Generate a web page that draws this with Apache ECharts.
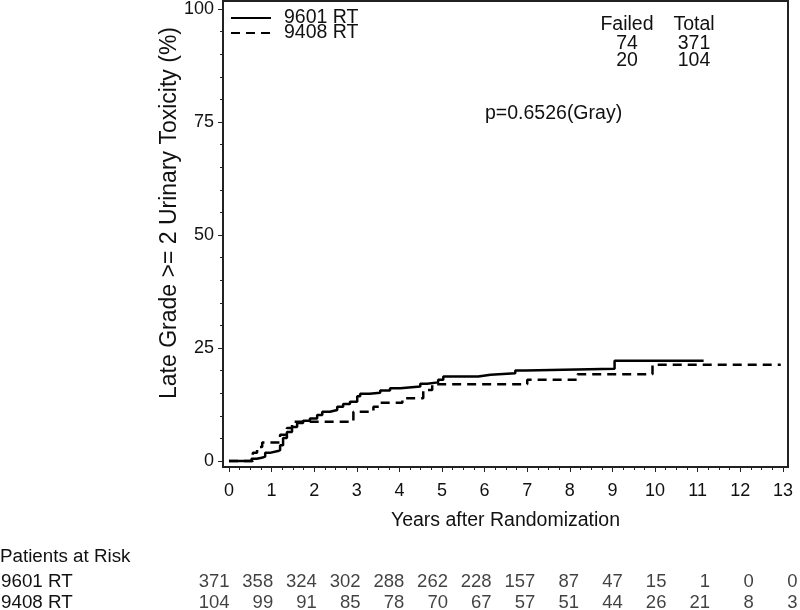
<!DOCTYPE html>
<html><head><meta charset="utf-8">
<script src="https://cdn.jsdelivr.net/npm/echarts@6/dist/echarts.min.js"></script>
<style>html,body{margin:0;padding:0;background:#fff}#c{width:800px;height:610px}</style>
</head><body><div id="c"></div>
<script>
// ---- data ----
const seriesNames = ['9601 RT', '9408 RT'];
// [years, cumulative incidence %] ; value holds from that time onward
const rt9601 = [[0,0],[0.53,0.5],[0.65,0.7],[0.77,1.0],[0.85,1.8],[0.96,2.2],[1.15,2.4],[1.2,3.5],[1.27,5.1],[1.36,6.4],[1.48,7.5],[1.6,8.4],[1.74,8.9],[1.9,9.4],[2.07,10.2],[2.19,10.9],[2.37,11.3],[2.54,12.0],[2.68,12.6],[2.84,13.1],[3.01,14.3],[3.08,14.9],[3.3,15.1],[3.55,15.6],[3.78,16.1],[4.02,16.5],[4.49,17.1],[4.65,17.4],[4.91,18.0],[5.03,18.7],[5.85,19.1],[6.14,19.4],[6.72,20.0],[6.96,20.4],[9.05,22.2],[11.14,22.2]];
const rt9408 = [[0,0],[0.56,1.8],[0.66,3.1],[0.78,4.1],[1.2,5.8],[1.36,7.3],[1.48,8.7],[2.92,10.9],[3.39,12.0],[3.55,12.9],[4.07,13.9],[4.56,15.7],[4.77,17.0],[7.0,18.0],[8.18,19.2],[9.94,21.3],[12.95,21.3]];
const xTicks = [0,1,2,3,4,5,6,7,8,9,10,11,12,13];
const yTicks = [0,25,50,75,100];
const riskTimes = [0,1,2,3,4,5,6,7,8,9,10,11,12,13];
const risk9601 = [371,358,324,302,288,262,228,157,87,47,15,1,0,0];
const risk9408 = [104,99,91,85,78,70,67,57,51,44,26,21,8,3];
const failed = [74, 20];
const total = [371, 104];
const tableHeaders = ['Failed', 'Total'];
const pValueText = 'p=0.6526(Gray)';
const xTitle = 'Years after Randomization';
const yTitle = 'Late Grade >= 2 Urinary Toxicity (%)';
const riskTitle = 'Patients at Risk';

// ---- chart ----
const FONT = "'Liberation Sans', Arial, Helvetica, sans-serif";
const INK = '#111';
const AX = '#222';
const FS = 19.5;
const xMinor = [];
for (let v = 0; v <= 13.001; v += 0.25) xMinor.push(+v.toFixed(2));
const yMinor = [];
for (let v = 0; v <= 100; v += 5) yMinor.push(v);

const chart = echarts.init(document.getElementById('c'), null, {renderer: 'canvas'});

const graphics = [];
const colX = [627, 694];
tableHeaders.forEach((h, i) => graphics.push({type:'text', x: colX[i], y: 25, style:{text:h, fontSize:FS, fontFamily:FONT, fill:INK, textAlign:'center', textVerticalAlign:'middle'}}));
[failed, total].forEach((arr, c) => arr.forEach((v, r) => graphics.push({type:'text', x: colX[c], y: 44 + r*17, style:{text:String(v), fontSize:FS, fontFamily:FONT, fill:INK, textAlign:'center', textVerticalAlign:'middle'}})));
graphics.push({type:'text', x: 485, y: 114, style:{text:pValueText, fontSize:FS, fontFamily:FONT, fill:INK, textAlign:'left', textVerticalAlign:'middle'}});
graphics.push({type:'text', x: 170, y: 213, rotation: Math.PI/2, style:{text:yTitle, fontSize:23, fontFamily:FONT, fill:INK, textAlign:'center', textVerticalAlign:'middle'}});
graphics.push({type:'text', x: 0, y: 557, style:{text:riskTitle, fontSize:18.8, fontFamily:FONT, fill:INK, textAlign:'left', textVerticalAlign:'middle'}});

const riskSeries = (arr, row) => ({
  type: 'scatter', xAxisIndex: 2, yAxisIndex: 2, symbolSize: 1, itemStyle: {color: 'transparent'},
  silent: true, clip: false,
  data: arr.map((v, i) => [riskTimes[i], row, v]),
  label: {show: true, position: 'left', distance: 0, formatter: p => String(p.value[2]), fontSize: 18.5, fontFamily: FONT, color: INK, align: 'right'},
  labelLayout: {hideOverlap: false}
});

chart.setOption({
  animation: false,
  backgroundColor: '#fff',
  textStyle: {fontFamily: FONT},
  grid: [
    {left: 223, right: 12, top: 1, bottom: 143, show: true, borderColor: AX, borderWidth: 2, backgroundColor: 'transparent', outerBoundsMode: 'none', containLabel: false},
    {left: 230, right: 2, top: 582, height: 21, outerBoundsMode: 'none', containLabel: false}
  ],
  legend: {
    orient: 'vertical', left: 225, top: 3, itemWidth: 40, itemHeight: 14, itemGap: -5,
    data: seriesNames,
    itemStyle: {opacity: 0},
    textStyle: {fontSize: FS, fontFamily: FONT, color: INK, padding: [0,0,0,8]}
  },
  xAxis: [
    {type: 'value', gridIndex: 0, min: -0.14, max: 13.12, position: 'bottom',
     axisLine: {show: true, onZero: false, lineStyle: {color: AX, width: 2}},
     axisTick: {show: true, customValues: xTicks, length: 5, lineStyle: {color: AX, width: 1}},
     axisLabel: {customValues: xTicks, fontSize: 18, color: INK, margin: 15, fontFamily: FONT},
     splitLine: {show: false},
     name: xTitle, nameLocation: 'middle', nameGap: 44, nameTextStyle: {fontSize: FS, color: INK, fontFamily: FONT}},
    {type: 'value', gridIndex: 0, min: -0.14, max: 13.12, position: 'bottom', offset: 0,
     axisLine: {show: false, onZero: false},
     axisTick: {show: true, customValues: xMinor, length: 3, lineStyle: {color: AX, width: 1}},
     axisLabel: {show: false}, splitLine: {show: false}},
    {type: 'value', gridIndex: 1, min: 0, max: 13, show: false}
  ],
  yAxis: [
    {type: 'value', gridIndex: 0, min: -1.33, max: 101.8, position: 'left',
     axisLine: {show: true, onZero: false, lineStyle: {color: AX, width: 2}},
     axisTick: {show: true, customValues: yTicks, length: 5, lineStyle: {color: AX, width: 1}},
     axisLabel: {customValues: yTicks, fontSize: 18, color: INK, margin: 9, fontFamily: FONT},
     splitLine: {show: false}},
    {type: 'value', gridIndex: 0, min: -1.33, max: 101.8, position: 'left', offset: 0,
     axisLine: {show: false, onZero: false},
     axisTick: {show: true, customValues: yMinor, length: 3, lineStyle: {color: AX, width: 1}},
     axisLabel: {show: false}, splitLine: {show: false}},
    {type: 'value', gridIndex: 1, min: 0, max: 1, inverse: true, position: 'left',
     axisLine: {show: false}, axisTick: {show: false}, splitLine: {show: false},
     axisLabel: {customValues: [0, 1], showMinLabel: true, showMaxLabel: true, hideOverlap: false, formatter: v => seriesNames[Math.round(v)], align: 'left', margin: 229, fontSize: 18.8, color: INK, fontFamily: FONT}}
  ],
  series: [
    {name: seriesNames[0], type: 'line', xAxisIndex: 0, yAxisIndex: 0, step: 'end', symbol: 'none', data: rt9601,
     lineStyle: {color: '#000', width: 2.5, type: 'solid'}, itemStyle: {color: '#000'}},
    {name: seriesNames[1], type: 'line', xAxisIndex: 0, yAxisIndex: 0, step: 'end', symbol: 'none', data: rt9408,
     lineStyle: {color: '#000', width: 2.5, type: [9, 6]}, itemStyle: {color: '#000'}},
    riskSeries(risk9601, 0),
    riskSeries(risk9408, 1)
  ],
  graphic: graphics
});
</script>
</body></html>
